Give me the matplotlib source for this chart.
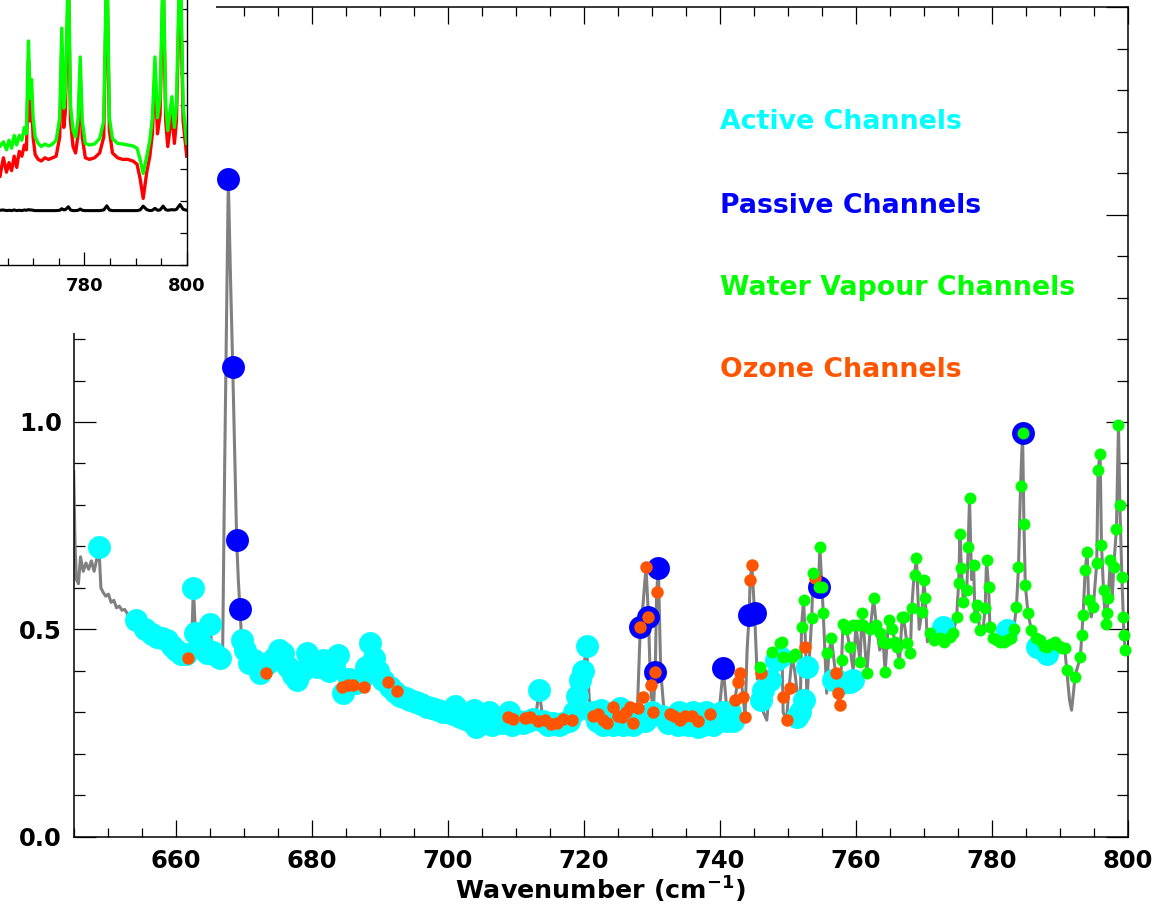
import numpy as np
import matplotlib
matplotlib.use('Agg')
import matplotlib.pyplot as plt
from matplotlib.ticker import MultipleLocator, FormatStrFormatter, NullFormatter, FixedLocator
from matplotlib.patches import Rectangle

# ---------------- data ----------------
# Main spectrum (wavenumber, value)
SPECTRUM = [
    (645.0, 0.88), (645.2, 0.70), (645.4, 0.62), (645.7, 0.61), (646.0, 0.675), (646.4, 0.64),
    (646.8, 0.66), (647.2, 0.645), (647.6, 0.665), (648.0, 0.64), (648.4, 0.67), (648.7, 0.70),
    (649.0, 0.60), (649.3, 0.59), (649.7, 0.58), (650.1, 0.585), (650.5, 0.565), (650.9, 0.57),
    (651.3, 0.552), (651.7, 0.556), (652.1, 0.546), (652.5, 0.548), (653.0, 0.535), (653.5, 0.53),
    (654.2, 0.522), (655.0, 0.51), (655.7, 0.50), (656.5, 0.49), (657.2, 0.482), (658.0, 0.478),
    (658.7, 0.474), (659.5, 0.46), (660.1, 0.45), (660.8, 0.44), (661.4, 0.445), (661.85, 0.432),
    (662.3, 0.45), (662.6, 0.60), (662.9, 0.49), (663.5, 0.47), (664.0, 0.50), (664.3, 0.47),
    (664.6, 0.442), (665.0, 0.514), (665.3, 0.46), (665.8, 0.44), (666.5, 0.43), (666.9, 0.45),
    (667.2, 0.90), (667.73, 1.585), (668.05, 1.35), (668.38, 1.133), (668.7, 0.90), (668.96, 0.715),
    (669.2, 0.62), (669.45, 0.548), (669.7, 0.474), (670.2, 0.45), (670.7, 0.418), (671.5, 0.43),
    (672.4, 0.394), (673.2, 0.394), (674.0, 0.42), (674.8, 0.43), (675.8, 0.442), (676.5, 0.40),
    (677.2, 0.39), (677.8, 0.378), (678.5, 0.41), (679.3, 0.442), (680.0, 0.41), (680.8, 0.40),
    (681.7, 0.426), (682.5, 0.40), (683.2, 0.41), (683.9, 0.438), (684.6, 0.346), (685.3, 0.39),
    (686.1, 0.366), (687.0, 0.39), (687.7, 0.36), (688.3, 0.42), (688.6, 0.466), (689.2, 0.40),
    (690.0, 0.385), (690.5, 0.378), (691.25, 0.376), (692.0, 0.36), (692.7, 0.35), (693.5, 0.34),
    (694.5, 0.33), (695.5, 0.325), (696.9, 0.313), (698.0, 0.31), (699.0, 0.30), (700.0, 0.30),
    (701.0, 0.295), (701.8, 0.289), (703.0, 0.28), (704.2, 0.265), (705.0, 0.28), (706.0, 0.27),
    (707.0, 0.285), (708.0, 0.275), (708.9, 0.289), (710.0, 0.28), (711.0, 0.275), (712.1, 0.289),
    (713.0, 0.30), (713.45, 0.354), (713.9, 0.29), (715.0, 0.272), (716.0, 0.28), (717.0, 0.27),
    (718.2, 0.281), (718.8, 0.33), (719.4, 0.378), (719.9, 0.40), (720.4, 0.46), (720.8, 0.33),
    (721.5, 0.29), (722.1, 0.297), (723.0, 0.275), (724.3, 0.313), (725.0, 0.285), (725.6, 0.289),
    (726.3, 0.30), (726.8, 0.313), (727.3, 0.28), (727.9, 0.32), (728.3, 0.506), (728.7, 0.56),
    (729.14, 0.651), (729.5, 0.53), (729.8, 0.36), (730.2, 0.30), (730.5, 0.398), (730.7, 0.591),
    (730.96, 0.647), (731.3, 0.40), (731.8, 0.30), (732.6, 0.297), (733.4, 0.29), (734.1, 0.281),
    (734.8, 0.295), (735.9, 0.29), (736.8, 0.28), (737.5, 0.27), (738.5, 0.295), (739.3, 0.28),
    (740.0, 0.32), (740.5, 0.406), (741.0, 0.31), (741.5, 0.30), (742.2, 0.33), (742.6, 0.372),
    (743.0, 0.394), (743.4, 0.338), (743.7, 0.289), (744.0, 0.45), (744.3, 0.535), (744.45, 0.619),
    (744.7, 0.655), (745.1, 0.54), (745.5, 0.38), (745.9, 0.41), (746.4, 0.30), (746.9, 0.281),
    (747.4, 0.378), (747.6, 0.446), (748.0, 0.36), (748.3, 0.426), (748.8, 0.466), (749.1, 0.47),
    (749.3, 0.30), (749.8, 0.281), (750.1, 0.346), (750.6, 0.434), (751.0, 0.40), (751.3, 0.358),
    (751.8, 0.289), (752.0, 0.506), (752.3, 0.571), (752.6, 0.462), (752.8, 0.33), (753.5, 0.527),
    (753.7, 0.635), (754.0, 0.623), (754.5, 0.603), (754.7, 0.699), (755.0, 0.603), (755.2, 0.539),
    (755.7, 0.346), (756.0, 0.442), (756.4, 0.478), (757.0, 0.394), (757.2, 0.342), (757.6, 0.318),
    (757.9, 0.426), (758.1, 0.514), (758.6, 0.50), (759.1, 0.458), (759.6, 0.40), (760.0, 0.51),
    (760.6, 0.422), (760.9, 0.539), (761.1, 0.51), (761.6, 0.394), (762.1, 0.50), (762.6, 0.575),
    (763.0, 0.51), (763.5, 0.45), (764.0, 0.47), (764.3, 0.398), (764.8, 0.522), (765.3, 0.50),
    (765.8, 0.47), (766.0, 0.458), (766.4, 0.418), (766.8, 0.53), (767.0, 0.53), (767.5, 0.466),
    (768.0, 0.442), (768.2, 0.551), (768.5, 0.62), (768.9, 0.671), (769.3, 0.50), (769.7, 0.542),
    (770.0, 0.619), (770.2, 0.575), (770.5, 0.47), (770.9, 0.49), (771.5, 0.475), (772.3, 0.478),
    (773.0, 0.47), (773.8, 0.482), (774.3, 0.49), (774.8, 0.53), (775.1, 0.611), (775.3, 0.731),
    (775.5, 0.647), (775.8, 0.567), (776.3, 0.595), (776.5, 0.699), (776.7, 0.816), (777.0, 0.62),
    (777.3, 0.655), (777.5, 0.53), (777.8, 0.559), (778.2, 0.498), (778.7, 0.50), (779.0, 0.551),
    (779.2, 0.667), (779.5, 0.603), (779.7, 0.506), (780.2, 0.48), (780.7, 0.474), (781.2, 0.47),
    (781.7, 0.47), (782.2, 0.474), (782.8, 0.48), (783.2, 0.50), (783.6, 0.555), (783.9, 0.651),
    (784.2, 0.845), (784.5, 0.973), (784.7, 0.755), (784.9, 0.607), (785.3, 0.539), (785.8, 0.498),
    (786.5, 0.48), (787.1, 0.474), (787.6, 0.46), (788.1, 0.458), (788.7, 0.465), (789.3, 0.47),
    (789.8, 0.46), (790.3, 0.455), (790.7, 0.454), (791.0, 0.402), (791.4, 0.33), (791.7, 0.305),
    (792.0, 0.35), (792.2, 0.386), (793.0, 0.434), (793.2, 0.486), (793.4, 0.535), (793.7, 0.643),
    (794.0, 0.687), (794.2, 0.571), (794.6, 0.53), (794.9, 0.555), (795.4, 0.659), (795.6, 0.884),
    (795.9, 0.924), (796.1, 0.703), (796.4, 0.595), (796.7, 0.514), (796.9, 0.539), (797.1, 0.575),
    (797.4, 0.667), (797.7, 0.58), (797.9, 0.651), (798.3, 0.743), (798.6, 0.993), (798.8, 0.80),
    (799.1, 0.627), (799.3, 0.53), (799.4, 0.486), (799.6, 0.45), (800.0, 0.44),
]

ACTIVE = [
    (648.7, 0.699), (654.2, 0.522), (655.5, 0.50), (656.5, 0.488), (657.2, 0.482), (658.0, 0.478),
    (658.7, 0.474), (659.5, 0.46), (660.1, 0.45), (660.8, 0.44), (661.5, 0.44), (662.6, 0.599),
    (662.8, 0.49), (663.5, 0.47), (664.0, 0.46), (664.6, 0.442), (665.0, 0.514), (665.5, 0.445),
    (666.0, 0.435), (666.5, 0.43), (669.7, 0.474), (670.2, 0.45), (670.7, 0.418), (671.5, 0.425),
    (672.4, 0.394), (673.5, 0.42), (674.5, 0.43), (675.2, 0.45), (675.8, 0.442), (676.5, 0.41),
    (677.2, 0.39), (677.8, 0.378), (678.5, 0.40), (679.3, 0.442), (680.0, 0.42), (680.8, 0.41),
    (681.7, 0.426), (682.5, 0.40), (683.2, 0.41), (683.9, 0.438), (684.6, 0.346), (685.5, 0.38),
    (686.5, 0.37), (687.3, 0.38), (688.0, 0.41), (688.6, 0.466), (689.2, 0.43), (689.8, 0.40),
    (690.5, 0.378), (691.5, 0.36), (692.3, 0.35), (693.0, 0.34), (693.8, 0.335), (694.5, 0.33),
    (695.3, 0.325), (696.0, 0.32), (696.9, 0.313), (697.7, 0.31), (698.5, 0.305), (699.3, 0.30),
    (700.0, 0.30), (700.8, 0.295), (701.0, 0.315), (701.8, 0.289), (702.5, 0.285), (703.3, 0.28),
    (703.8, 0.305), (704.2, 0.265), (705.0, 0.28), (705.8, 0.275), (706.0, 0.30), (706.5, 0.27),
    (707.3, 0.28), (708.0, 0.275), (708.8, 0.28), (709.0, 0.30), (709.5, 0.27), (710.3, 0.28),
    (711.0, 0.275), (711.8, 0.28), (712.5, 0.285), (713.45, 0.354), (714.0, 0.28), (714.8, 0.27),
    (715.5, 0.275), (716.3, 0.27), (717.0, 0.275), (717.8, 0.28), (718.5, 0.30), (719.0, 0.34),
    (719.4, 0.378), (719.9, 0.40), (720.4, 0.46), (721.3, 0.30), (722.0, 0.28), (722.5, 0.305),
    (722.8, 0.27), (723.5, 0.28), (724.3, 0.27), (725.0, 0.285), (725.3, 0.31), (725.8, 0.27),
    (726.5, 0.28), (727.3, 0.27), (728.0, 0.285), (729.0, 0.28), (730.0, 0.30), (731.5, 0.29),
    (732.3, 0.275), (733.0, 0.28), (733.8, 0.27), (734.0, 0.30), (734.5, 0.28), (735.3, 0.27),
    (736.1, 0.30), (736.8, 0.265), (737.5, 0.27), (738.0, 0.30), (738.3, 0.275), (739.0, 0.27),
    (739.7, 0.28), (740.3, 0.30), (741.0, 0.28), (741.5, 0.30), (742.0, 0.28), (746.1, 0.33),
    (746.4, 0.354), (747.4, 0.378), (748.3, 0.426), (748.8, 0.434), (751.3, 0.289), (751.8, 0.30),
    (752.3, 0.33), (752.8, 0.41), (756.7, 0.378), (757.2, 0.378), (758.0, 0.37), (759.2, 0.374),
    (759.6, 0.378), (772.8, 0.506), (782.2, 0.498), (786.6, 0.458), (788.1, 0.44),
]

PASSIVE = [
    (667.73, 1.585), (668.38, 1.133), (668.96, 0.715), (669.45, 0.548), (728.3, 0.506),
    (729.5, 0.530), (730.5, 0.398), (730.96, 0.647), (740.5, 0.406), (744.3, 0.535),
    (745.1, 0.540), (754.5, 0.603), (784.5, 0.973),
]

OZONE = [
    (661.85, 0.432), (673.2, 0.394), (684.5, 0.360), (685.3, 0.365), (686.1, 0.366), (687.7, 0.360),
    (691.2, 0.374), (692.6, 0.351), (708.9, 0.289), (709.6, 0.285), (711.4, 0.287), (712.1, 0.289),
    (713.2, 0.280), (714.3, 0.281), (715.2, 0.272), (716.0, 0.273), (717.0, 0.285), (718.2, 0.281),
    (721.4, 0.290), (722.1, 0.297), (722.8, 0.282), (723.4, 0.273), (724.3, 0.313), (725.0, 0.292),
    (725.6, 0.289), (726.2, 0.300), (726.8, 0.313), (727.3, 0.273), (727.9, 0.310), (728.3, 0.506),
    (728.7, 0.338), (729.14, 0.651), (729.5, 0.530), (729.9, 0.366), (730.2, 0.301), (730.5, 0.398),
    (730.7, 0.591), (732.6, 0.297), (733.3, 0.290), (734.1, 0.281), (734.8, 0.290), (735.9, 0.290),
    (736.8, 0.280), (738.5, 0.295), (742.2, 0.330), (742.6, 0.372), (743.0, 0.394), (743.4, 0.338),
    (743.7, 0.289), (744.4, 0.619), (744.7, 0.655), (746.1, 0.394), (749.3, 0.338), (749.8, 0.281),
    (750.3, 0.358), (752.5, 0.458), (754.0, 0.623), (757.0, 0.394), (757.4, 0.346), (757.6, 0.318),
]

WATER = [
    (745.9, 0.410), (747.6, 0.446), (748.8, 0.466), (749.1, 0.470), (749.3, 0.434), (750.6, 0.434),
    (751.1, 0.440), (752.0, 0.506), (752.3, 0.571), (753.5, 0.527), (753.7, 0.635), (754.5, 0.603),
    (754.7, 0.699), (755.0, 0.603), (755.2, 0.539), (755.7, 0.442), (756.4, 0.478), (757.9, 0.426),
    (758.1, 0.514), (758.6, 0.500), (759.1, 0.458), (759.6, 0.510), (760.3, 0.510), (760.6, 0.422),
    (760.9, 0.539), (761.1, 0.510), (761.6, 0.394), (762.1, 0.500), (762.6, 0.575), (763.0, 0.510),
    (763.5, 0.490), (764.0, 0.470), (764.3, 0.398), (764.5, 0.466), (764.8, 0.522), (765.3, 0.500),
    (765.8, 0.470), (766.0, 0.458), (766.4, 0.418), (766.8, 0.530), (767.0, 0.530), (767.5, 0.466),
    (768.0, 0.442), (768.2, 0.551), (768.7, 0.631), (768.9, 0.671), (769.7, 0.542), (770.0, 0.619),
    (770.2, 0.575), (770.9, 0.490), (771.5, 0.475), (772.3, 0.478), (773.0, 0.470), (773.8, 0.482),
    (774.3, 0.490), (774.8, 0.530), (775.1, 0.611), (775.3, 0.731), (775.5, 0.647), (775.8, 0.567),
    (776.3, 0.595), (776.5, 0.699), (776.7, 0.816), (777.3, 0.655), (777.5, 0.530), (777.8, 0.559),
    (778.2, 0.498), (779.0, 0.551), (779.2, 0.667), (779.5, 0.603), (779.7, 0.506), (780.2, 0.480),
    (780.7, 0.474), (781.2, 0.470), (781.7, 0.470), (782.2, 0.474), (782.8, 0.480), (783.2, 0.500),
    (783.6, 0.555), (783.9, 0.651), (784.2, 0.845), (784.5, 0.973), (784.7, 0.755), (784.9, 0.607),
    (785.3, 0.539), (785.8, 0.498), (786.5, 0.480), (787.1, 0.474), (787.6, 0.460), (788.1, 0.458),
    (788.7, 0.465), (789.3, 0.470), (789.8, 0.460), (790.3, 0.455), (790.7, 0.454), (791.0, 0.402),
    (792.2, 0.386), (793.0, 0.434), (793.2, 0.486), (793.4, 0.535), (793.7, 0.643), (794.0, 0.687),
    (794.2, 0.571), (794.9, 0.555), (795.4, 0.659), (795.6, 0.884), (795.9, 0.924), (796.1, 0.703),
    (796.4, 0.595), (796.7, 0.514), (796.9, 0.539), (797.1, 0.575), (797.4, 0.667), (797.9, 0.651),
    (798.3, 0.743), (798.6, 0.993), (798.8, 0.800), (799.1, 0.627), (799.3, 0.530), (799.4, 0.486),
    (799.6, 0.450),
]

LEGEND_LABELS = ["Active Channels", "Passive Channels", "Water Vapour Channels", "Ozone Channels"]
LEGEND_Y = [1.723, 1.522, 1.322, 1.125]

# Inset spectra (arbitrary units)
INSET_TICKS = [760, 780, 800]
INSET_WN = [762.0, 763.0, 763.5, 764.2, 764.8, 765.3, 765.8, 766.3, 766.8, 767.3,
            767.8, 768.3, 768.7, 769.1, 769.4, 769.7, 770.0, 770.4, 771.0, 771.6,
            772.3, 773.0, 773.8, 774.5, 775.2, 775.6, 776.0, 776.3, 776.9, 777.3,
            777.8, 778.3, 778.8, 779.2, 779.6, 780.2, 781.0, 782.0, 783.0, 783.8,
            784.4, 784.9, 785.5, 786.5, 787.5, 788.5, 789.5, 790.3, 790.9, 791.5,
            792.2, 792.8, 793.3, 793.8, 794.3, 794.8, 795.4, 795.9, 796.3, 797.1,
            797.6, 798.0, 798.7, 799.3, 800.0]
INSET_GREEN = [3.60, 3.75, 3.70, 3.85, 3.60, 3.90, 3.65, 4.05, 3.75, 4.05,
               3.90, 4.30, 4.10, 7.00, 5.20, 5.80, 4.60, 4.00, 3.80, 3.70,
               3.78, 3.72, 3.78, 3.90, 4.60, 7.40, 4.90, 5.40, 9.50, 5.00,
               4.20, 4.00, 4.60, 6.50, 4.50, 3.80, 3.75, 3.78, 3.95, 4.50,
               10.0, 4.60, 3.95, 3.80, 3.78, 3.75, 3.72, 3.65, 3.30, 2.86,
               3.40, 3.90, 4.60, 6.50, 4.60, 5.20, 9.50, 5.00, 4.20, 5.26,
               4.30, 5.00, 10.0, 5.00, 3.80]
INSET_RED = [2.90, 3.10, 2.76, 3.35, 2.90, 3.20, 2.95, 3.40, 3.05, 3.55,
             3.40, 3.75, 3.60, 6.40, 4.50, 5.20, 4.00, 3.45, 3.30, 3.25,
             3.35, 3.30, 3.35, 3.40, 4.00, 6.80, 4.30, 4.80, 9.00, 4.50,
             3.70, 3.50, 4.10, 6.00, 4.00, 3.35, 3.30, 3.35, 3.50, 4.00,
             9.50, 4.20, 3.50, 3.35, 3.30, 3.30, 3.25, 3.15, 2.70, 2.08,
             2.90, 3.40, 4.10, 6.00, 4.10, 4.70, 9.00, 4.50, 3.70, 4.75,
             3.80, 4.50, 9.50, 4.50, 3.40]
INSET_BLACK = [1.72, 1.70, 1.71, 1.72, 1.70, 1.71, 1.70, 1.72, 1.70, 1.71,
               1.70, 1.72, 1.71, 1.73, 1.72, 1.72, 1.71, 1.70, 1.70, 1.70,
               1.70, 1.70, 1.70, 1.70, 1.71, 1.76, 1.72, 1.73, 1.82, 1.72,
               1.70, 1.70, 1.71, 1.75, 1.71, 1.70, 1.70, 1.70, 1.70, 1.72,
               1.85, 1.72, 1.70, 1.70, 1.70, 1.70, 1.70, 1.70, 1.72, 1.84,
               1.73, 1.70, 1.71, 1.77, 1.71, 1.72, 1.84, 1.73, 1.71, 1.73,
               1.72, 1.74, 1.89, 1.74, 1.71]

# ---------------- style ----------------
plt.rcParams['font.family'] = ['DejaVu Sans']
plt.rcParams['font.weight'] = 'bold'
plt.rcParams['mathtext.default'] = 'bf'

C_ACTIVE = '#00FFFF'
C_PASSIVE = '#0000FF'
C_WATER = '#00FF00'
C_OZONE = '#FF5500'
C_SPEC = '#808080'

W, H = 1157, 907
fig = plt.figure(figsize=(W / 100, H / 100), dpi=100)


def fig_rect(left_px, top_px, right_px, bottom_px):
    return [left_px / W, 1 - bottom_px / H, (right_px - left_px) / W, (bottom_px - top_px) / H]


# ---------------- main axes ----------------
ax = fig.add_axes(fig_rect(73.7, 7.3, 1128, 836.7), zorder=0)
sx, sy = zip(*SPECTRUM)
ax.plot(sx, sy, color=C_SPEC, lw=2.2, zorder=2)

for data, col, ms, z in [(ACTIVE, C_ACTIVE, 16.5, 3), (PASSIVE, C_PASSIVE, 16.5, 4),
                         (OZONE, C_OZONE, 9.0, 5), (WATER, C_WATER, 8.6, 6)]:
    px, py = zip(*data)
    ax.plot(px, py, 'o', ms=ms, color=col, mec='none', zorder=z, clip_on=False)

for lab, ly, col in zip(LEGEND_LABELS, LEGEND_Y, [C_ACTIVE, C_PASSIVE, C_WATER, C_OZONE]):
    ax.text(740.0, ly, lab, color=col, fontsize=19.3, fontweight='bold', va='center', ha='left')

ax.set_xlim(645, 800)
ax.set_ylim(0, 2.0)
ax.xaxis.set_major_locator(MultipleLocator(20))
ax.xaxis.set_minor_locator(MultipleLocator(5))
ax.yaxis.set_major_locator(MultipleLocator(0.5))
ax.yaxis.set_minor_locator(MultipleLocator(0.1))
ax.yaxis.set_major_formatter(FormatStrFormatter('%.1f'))
ax.tick_params(which='both', direction='in', top=True, right=True, width=0.9,
               color='black', labelsize=17.5)
ax.tick_params(axis='x', which='major', length=12.2, pad=8.5)
ax.tick_params(axis='x', which='minor', length=6.5)
ax.tick_params(axis='y', which='major', length=15.8, pad=8.4)
ax.tick_params(axis='y', which='minor', length=8)
for s in ax.spines.values():
    s.set_linewidth(1.1)
ax.set_xlabel(r'Wavenumber (cm$^{-1}$)', fontsize=18.3, fontweight='bold')
ax.xaxis.set_label_coords(0.5, -0.0455)

# ---------------- white box behind the inset ----------------
fig.add_artist(Rectangle((0, 1 - 333 / H), 216 / W, 333 / H, transform=fig.transFigure,
                         facecolor='white', edgecolor='none', zorder=1))

# ---------------- inset ----------------
ax_in = fig.add_axes(fig_rect(186.7 - 155 * 5.12, 265 - 320, 186.7, 265), zorder=2)
ax_in.plot(INSET_WN, INSET_BLACK, color='black', lw=2.2)
ax_in.plot(INSET_WN, INSET_RED, color='#FF0000', lw=2.4)
ax_in.plot(INSET_WN, INSET_GREEN, color='#00FF00', lw=2.4)
ax_in.set_xlim(645, 800)
ax_in.set_ylim(0, 10)
ax_in.xaxis.set_major_locator(FixedLocator(INSET_TICKS))
ax_in.xaxis.set_minor_locator(MultipleLocator(5))
ax_in.yaxis.set_major_locator(MultipleLocator(1))
ax_in.yaxis.set_major_formatter(NullFormatter())
ax_in.tick_params(which='both', direction='in', right=True, width=0.9, labelsize=13)
ax_in.tick_params(axis='x', which='major', length=9.4, pad=8.4)
ax_in.tick_params(axis='x', which='minor', length=5)
ax_in.tick_params(axis='y', which='major', length=5)
for s in ax_in.spines.values():
    s.set_linewidth(1.0)

fig.savefig('out.png', dpi=100)
